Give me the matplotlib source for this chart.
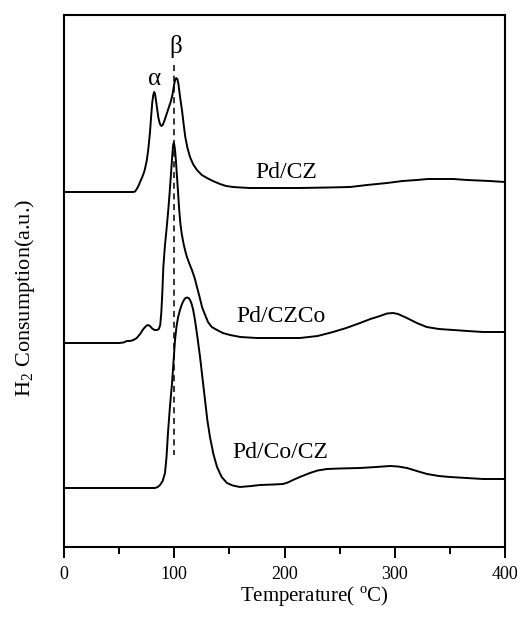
import matplotlib
matplotlib.use("Agg")
import matplotlib.pyplot as plt
from matplotlib.ticker import MultipleLocator

plt.rcParams['font.family'] = ['Liberation Serif', 'DejaVu Serif']
plt.rcParams['mathtext.fontset'] = 'custom'
plt.rcParams['mathtext.rm'] = 'Liberation Serif'

# Pd/CZ curve (temperature in C, signal in a.u.)
t_cz = [0, 62.6, 64.5, 66, 67.5, 69, 71, 73, 75, 76.5, 78, 79, 80, 81, 81.8, 82.6,
        83.5, 84.5, 85.5, 86.5, 87.5, 88.5, 89.5, 91, 92.5, 94, 95.5, 97, 98.5,
        99.8, 100.8, 101.8, 102.8, 103.8, 104.8, 105.8, 107, 108.5, 110, 112,
        114.3, 117, 120.6, 125, 129.7, 135, 141.5, 147, 153.3, 160, 168.7, 190,
        214, 240, 259.4, 275, 293, 307, 320, 330, 341, 353, 365.5, 376, 386, 400]
h_cz = [35.5, 35.5, 35.55, 35.8, 36.1, 36.5, 37.0, 37.6, 38.6, 39.8, 41.5, 43.0,
        44.4, 45.2, 45.5, 45.3, 44.6, 43.8, 43.0, 42.5, 42.2, 42.1, 42.2, 42.6,
        43.1, 43.6, 44.1, 44.6, 45.3, 46.2, 46.7, 46.9, 46.8, 46.3, 45.4, 44.6,
        43.7, 42.3, 41.0, 39.9, 39.0, 38.3, 37.7, 37.2, 36.9, 36.6, 36.3, 36.1,
        36.0, 35.95, 35.9, 35.9, 35.9, 35.95, 36.0, 36.2, 36.4, 36.6, 36.7, 36.8,
        36.8, 36.8, 36.7, 36.65, 36.6, 36.5]

# Pd/CZCo curve
t_czco = [0, 50, 54, 57, 60, 63, 66, 69, 72, 74.5, 76.2, 78, 80, 82, 84.4, 86,
          87.3, 88.3, 89.2, 90.1, 91.6, 93.2, 94.5, 95.8, 97.1, 98.3, 99.0, 99.5,
          100.1, 100.8, 101.6, 102.5, 103.5, 104.5, 105.6, 106.8, 108.5, 110,
          111.5, 113.5, 116, 118.5, 120.6, 123, 125.2, 128, 130.6, 134, 138.8,
          144, 150.6, 160, 175, 214, 230, 244, 256, 268.5, 278, 286.6, 293,
          298.4, 303, 311, 320, 329, 340, 353, 366, 380, 400]
h_czco = [20.4, 20.4, 20.45, 20.6, 20.6, 20.7, 20.9, 21.3, 21.8, 22.1, 22.2, 22.1,
          21.85, 21.7, 21.7, 21.8, 22.2, 23.5, 25.5, 28.0, 30.2, 32.0, 33.6, 35.4,
          37.4, 39.3, 40.2, 40.4, 40.2, 39.6, 38.5, 37.0, 35.4, 33.7, 32.3, 31.3,
          30.3, 29.6, 29.0, 28.4, 27.7, 26.9, 26.0, 25.0, 24.0, 23.2, 22.5, 22.0,
          21.7, 21.4, 21.2, 21.0, 20.9, 20.9, 21.1, 21.5, 21.9, 22.4, 22.8, 23.1,
          23.35, 23.4, 23.3, 22.9, 22.4, 22.0, 21.8, 21.7, 21.6, 21.5, 21.5]

# Pd/Co/CZ curve
t_cocz = [0, 60, 82.5, 85, 87.1, 89.5, 91.6, 93, 94.3, 96, 98, 99.5, 100.7, 102,
          103.5, 105.2, 107, 108.8, 110.2, 111.6, 113, 114.3, 115.5, 117, 118.8,
          121, 123.4, 125.7, 127.9, 130, 132.4, 135.5, 138.8, 143, 147.8, 153,
          159.6, 170, 177.8, 190, 198.6, 203, 207.7, 215, 223.1, 230, 238.5, 250,
          268.5, 283, 295.7, 303, 311.1, 320, 329.3, 340, 350.1, 365, 380, 400]
h_cocz = [5.9, 5.9, 5.9, 6.0, 6.2, 6.6, 7.4, 9.0, 11.4, 13.9, 16.4, 18.8, 20.7,
          22.0, 23.0, 23.7, 24.3, 24.7, 24.9, 24.95, 24.9, 24.7, 24.4, 23.8, 22.7,
          21.0, 19.0, 16.8, 14.7, 12.7, 11.0, 9.3, 8.0, 7.0, 6.4, 6.15, 6.0, 6.1,
          6.2, 6.25, 6.3, 6.45, 6.7, 7.05, 7.4, 7.65, 7.8, 7.85, 7.9, 8.0, 8.1,
          8.05, 7.9, 7.6, 7.3, 7.1, 7.0, 6.9, 6.8, 6.8]

labels = ['Pd/CZ', 'Pd/CZCo', 'Pd/Co/CZ']
label_x = [201.4, 196.8, 195.9]
label_y = [37.5, 23.1, 9.5]

# dashed guide through beta peak
guide_t = [99.5, 99.5]
guide_h = [48.2, 9.2]

fig = plt.figure(figsize=(5.17, 6.2), dpi=100)
ax = fig.add_axes([64 / 517, 1 - 547 / 620, 441 / 517, 532 / 620])

for t, h in [(t_cz, h_cz), (t_czco, h_czco), (t_cocz, h_cocz)]:
    ax.plot(t, h, color='black', lw=1.4, solid_joinstyle='round')
ax.plot(guide_t, guide_h, color='black', lw=1.1, ls=(0, (4, 3)))

for s, x, y in zip(labels, label_x, label_y):
    ax.text(x, y, s, fontsize=17, ha='center', va='center')
ax.text(82.5, 46.8, 'α', fontsize=18, ha='center', va='center')
ax.text(101.6, 50.1, 'β', fontsize=18, ha='center', va='center')

ax.set_xlim(0, 400)
ax.set_ylim(0, 53.2)
ax.set_yticks([])
ax.xaxis.set_major_locator(MultipleLocator(100))
ax.xaxis.set_minor_locator(MultipleLocator(50))
ax.tick_params(axis='x', which='major', direction='out', length=8, width=1.4,
               labelsize=13, pad=6)
ax.tick_params(axis='x', which='minor', direction='out', length=5, width=1.4)
for sp in ax.spines.values():
    sp.set_linewidth(1.5)

ax.set_xlabel('Temperature( $^{\\mathrm{o}}$C)', fontsize=15)
ax.xaxis.set_label_coords(0.567, -0.094)
ax.xaxis.label.set_va('center')
ax.set_ylabel('H$_2$ Consumption(a.u.)', fontsize=16)
ax.yaxis.set_label_coords(-0.088, 0.468)
ax.yaxis.label.set_va('center')

plt.savefig('out.png', dpi=100)
